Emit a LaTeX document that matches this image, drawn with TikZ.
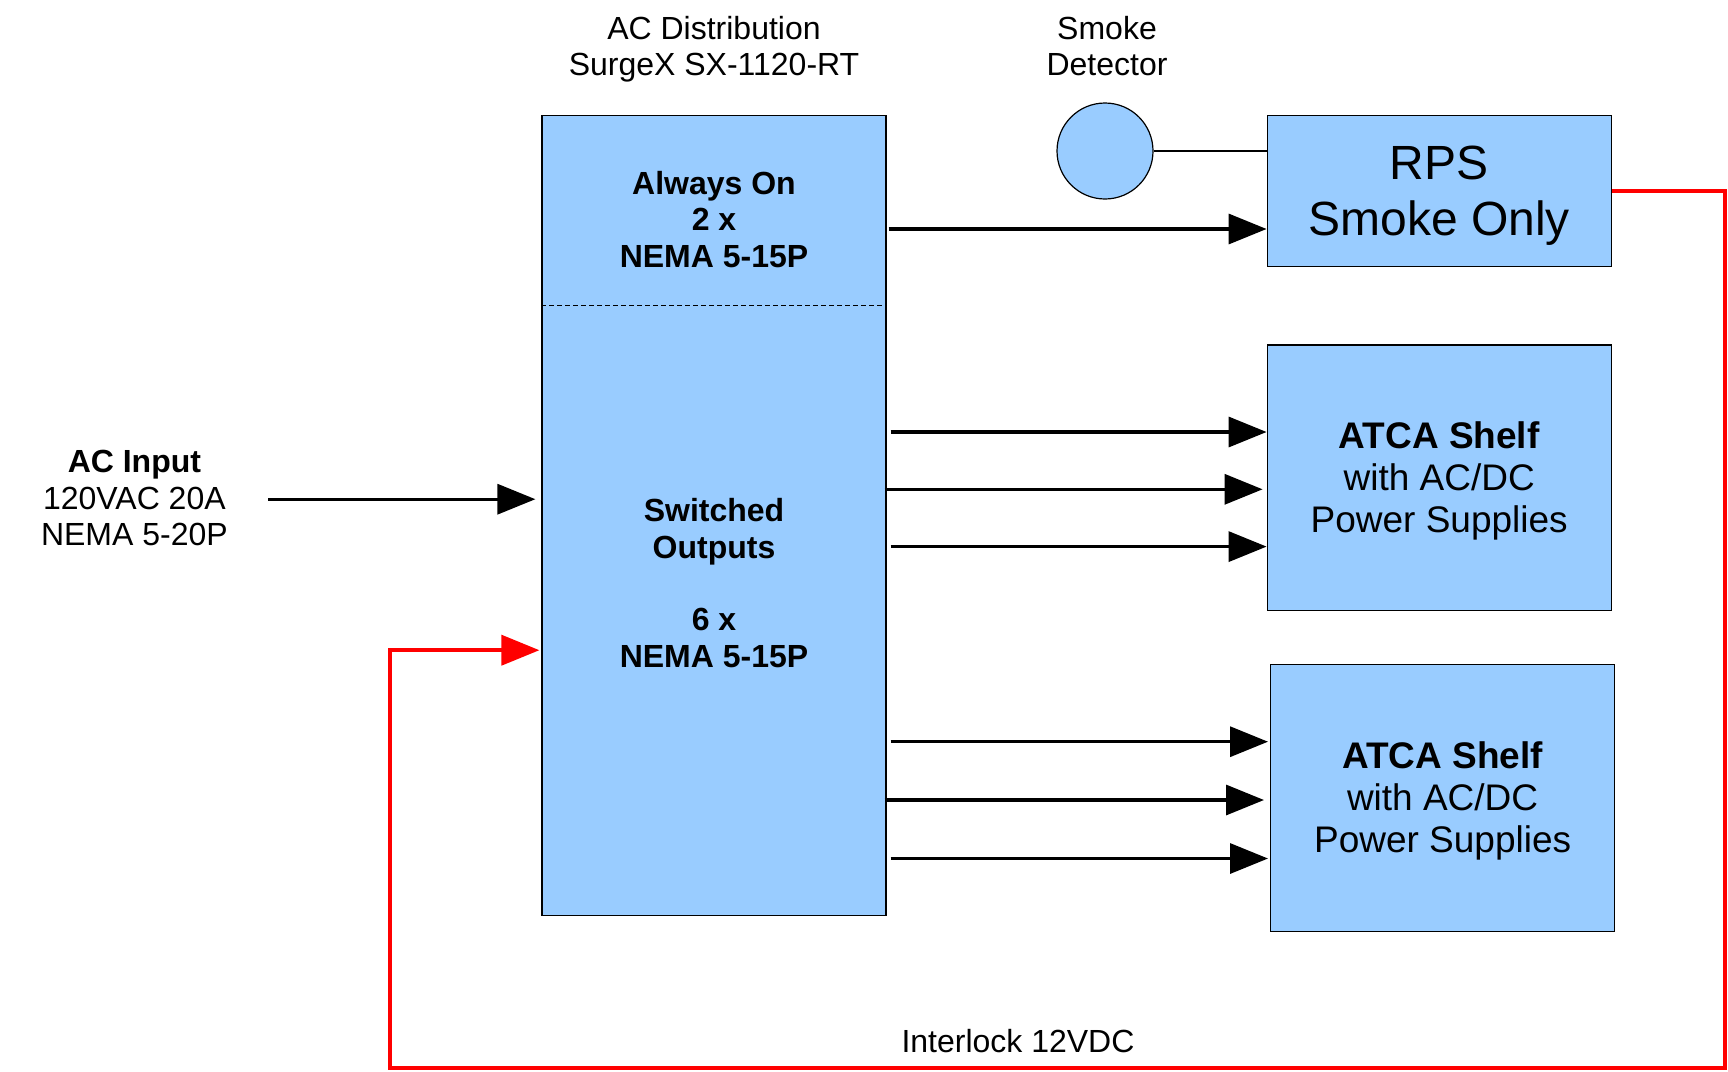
\documentclass[tikz,border=0pt]{standalone}
\usepackage{fontspec}
\setmainfont{Liberation Sans}
\usetikzlibrary{arrows.meta}
\definecolor{boxblue}{HTML}{99CCFF}

\begin{document}
\begin{tikzpicture}[x=0.5pt, y=-0.5pt,
  unit/.style={draw=black, line width=0.6pt, fill=boxblue, inner sep=0pt, align=center},
  txt/.style={align=center, font=\fontsize{16}{18.2}\selectfont},
  shelftxt/.style={align=center, font=\fontsize{18.5}{21}\selectfont},
  feed/.style={line width=1.65pt, -{Triangle[length=19pt,width=15pt]}},
  lock/.style={line width=1.9pt, red, -{Triangle[length=19pt,width=15pt]}}]
% Fix the page size
\useasboundingbox (0,0) rectangle (1728,1071);
% Draw the AC distribution unit
\node[unit, minimum width=172pt, minimum height=400pt] (dist) at (714,515.8) {};
% Split it into the always on part and the switched part
\draw[line width=0.5pt, dash pattern=on 2.5pt off 1.5pt] (dist.west |- 0,305.3) -- (dist.east |- 0,305.3);
% Put the titles above the unit and the detector
\node[txt] (disttitle) at (714,49.5) {AC Distribution\\SurgeX SX-1120-RT};
\node[txt] (smoketitle) at (1107,45.8) {Smoke\\Detector};
% Texts inside the unit
\node[txt, font=\bfseries\fontsize{16}{18.2}\selectfont] (alwayson) at (714,219.3) {Always On\\2 x\\NEMA 5-15P};
\node[txt, font=\bfseries\fontsize{16}{18.2}\selectfont] (switched) at (714,583) {Switched\\Outputs\\ \\6 x\\NEMA 5-15P};
% Draw the smoke detector and the RPS
\node[unit, circle, minimum size=48pt] (smoke) at (1105,151) {};
\node[unit, minimum width=172pt, minimum height=75.5pt] (rps) at (1439.2,191.2) {};
\node[align=center, font=\fontsize{24}{28}\selectfont] (rpstxt) at (1439.2,195.6) {RPS\\Smoke Only};
\draw[line width=0.6pt] (smoke.east) -- (rps.west |- smoke.east);
% Draw the two ATCA shelves
\node[unit, minimum width=172pt, minimum height=132.75pt] (atcaa) at (1439.2,477.7) {};
\node[shelftxt] (atcaatxt) at (1439.2,481) {\textbf{ATCA Shelf}\\with AC/DC\\Power Supplies};
\node[unit, minimum width=172pt, minimum height=133.35pt] (atcab) at (1442.6,797.9) {};
\node[shelftxt] (atcabtxt) at (1442.6,801.2) {\textbf{ATCA Shelf}\\with AC/DC\\Power Supplies};
% AC input on the left
\node[txt] (acin) at (134.4,498) {\textbf{AC Input}\\120VAC 20A\\NEMA 5-20P};
\draw[feed] (268,499.2) -- ([xshift=-3pt]dist.west |- 0,499.2);
% Always on output to the RPS
\draw[feed] ([xshift=1pt]dist.east |- 0,229) -- (rps.west |- 0,229);
% Switched outputs to the first shelf
\draw[feed] ([xshift=2pt]dist.east |- 0,432) -- (atcaa.west |- 0,432);
\draw[feed] ([xshift=-1pt]dist.east |- 0,489.3) -- ([xshift=-2pt]atcaa.west |- 0,489.3);
\draw[feed] ([xshift=2pt]dist.east |- 0,546.6) -- (atcaa.west |- 0,546.6);
% Switched outputs to the second shelf
\draw[feed] ([xshift=2pt]dist.east |- 0,741.7) -- ([xshift=-1pt]atcab.west |- 0,741.7);
\draw[feed] ([xshift=-1pt]dist.east |- 0,800) -- ([xshift=-3pt]atcab.west |- 0,800);
\draw[feed] ([xshift=2pt]dist.east |- 0,858.5) -- ([xshift=-1pt]atcab.west |- 0,858.5);
% Interlock loop from the RPS back to the unit
\draw[lock] (rps.east |- 0,190.7) -| (1724.7,1067.9) -| (390,650.2) -- ([xshift=-1pt]dist.west |- 0,650.2);
\node[txt] (interlock) at (1018,1041.4) {Interlock 12VDC};
\end{tikzpicture}
\end{document}
